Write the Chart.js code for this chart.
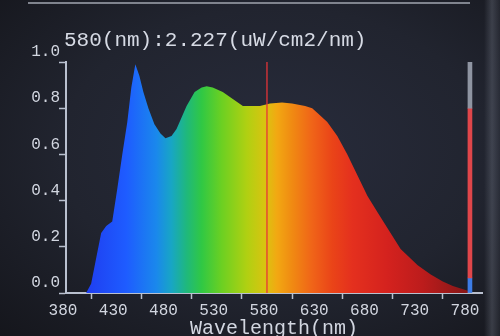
<!DOCTYPE html>
<html>
<head>
<meta charset="utf-8">
<script src="https://cdn.jsdelivr.net/npm/chart.js@4"></script>
<style>
  html, body { margin: 0; padding: 0; overflow: hidden; }
  body {
    width: 500px; height: 336px;
    background: radial-gradient(ellipse at 55% 45%, #282c3c 0%, #21242f 55%, #15161c 100%);
    position: relative;
  }
  #edge { position: absolute; left: 28px; top: 2px; width: 442px; height: 2px; background: #80848e; }
  #glare { position: absolute; left: 484px; top: 0; width: 16px; height: 336px;
    background: linear-gradient(90deg, rgba(120,126,140,0) 0%, rgba(120,126,140,0.35) 50%, rgba(120,126,140,0.1) 100%); }
  #wrap { position: absolute; left: 0; top: 0; }
</style>
</head>
<body>
<div id="edge"></div>
<div id="glare"></div>
<div id="wrap"><canvas id="spec" width="500" height="343"></canvas></div>
<script>
// spectrum
const wavelengths = [400,405,410,415,420,426,431,436,441,445,449,453,457,462,468,474,479,485,490,495,500,508,515,520,526,536,546,556,565,573,583,595,605,618,625,630,640,650,660,670,680,690,700,713,730,743,755,765,780];
const intensity = [0,0.04,0.15,0.26,0.29,0.31,0.45,0.60,0.74,0.89,0.99,0.94,0.87,0.80,0.73,0.69,0.67,0.68,0.71,0.76,0.81,0.87,0.89,0.895,0.89,0.87,0.84,0.81,0.81,0.81,0.82,0.825,0.82,0.81,0.80,0.78,0.74,0.68,0.60,0.51,0.42,0.35,0.28,0.19,0.12,0.08,0.05,0.03,0.01];

const markerNm = 580;
const markerText = "580(nm):2.227(uW/cm2/nm)";
const xTicks = [380,430,480,530,580,630,680,730,780];
const yTicks = [0,0.2,0.4,0.6,0.8,1.0];

// the level bar at the right edge
const levelNm = 782;
const levelGray = [0.8, 1.0];
const levelRed = [0.065, 0.8];
const levelBlue = [0, 0.065];

// colour stops along the wavelength axis
const colorStops = [
  [400, "#1f3ef0"], [440, "#1e5cff"], [470, "#1a88ec"], [485, "#18a6c4"],
  [500, "#1fb87c"], [515, "#30c844"], [535, "#6cd022"], [560, "#b0d012"],
  [578, "#d8c410"], [590, "#f2a812"], [605, "#f08a12"], [625, "#f06418"],
  [645, "#ea4418"], [665, "#e4301e"], [700, "#d4221e"], [735, "#bc1c1c"], [775, "#8c1818"]
];

function spectrumFill(ctx) {
  const chart = ctx.chart;
  if (!chart.chartArea) return "#2060f0";
  const xs = chart.scales.x;
  const x0 = xs.getPixelForValue(colorStops[0][0]);
  const x1 = xs.getPixelForValue(colorStops[colorStops.length - 1][0]);
  const g = chart.ctx.createLinearGradient(x0, 0, x1, 0);
  colorStops.forEach(([nm, c]) => {
    g.addColorStop((xs.getPixelForValue(nm) - x0) / (x1 - x0), c);
  });
  return g;
}

const headline = {
  id: "headline",
  afterDraw(chart) {
    const c = chart.ctx;
    c.save();
    c.font = "21px 'Liberation Mono'";
    c.fillStyle = "#d6dae4";
    c.textBaseline = "middle";
    c.fillText(markerText, chart.chartArea.left - 2, 40);
    c.restore();
  }
};

const axisColor = "#b9c0cf";
const textColor = "#d2d6e0";

new Chart(document.getElementById("spec"), {
  data: {
    datasets: [
      {
        type: "bar",
        data: [{ x: levelNm, y: levelGray }],
        backgroundColor: "#8f95a2",
        barThickness: 4, grouped: false, order: 0
      },
      {
        type: "bar",
        data: [{ x: levelNm, y: levelRed }],
        backgroundColor: "#e0464a",
        barThickness: 4, grouped: false, order: 0
      },
      {
        type: "bar",
        data: [{ x: levelNm, y: levelBlue }],
        backgroundColor: "#3c7ce6",
        barThickness: 4, grouped: false, order: 0
      },
      {
        type: "line",
        data: [{ x: markerNm, y: 0 }, { x: markerNm, y: 1 }],
        borderColor: "rgba(232,52,56,0.85)",
        borderWidth: 1.5,
        pointRadius: 0,
        order: 1
      },
      {
        type: "line",
        data: wavelengths.map((w, i) => ({ x: w, y: intensity[i] })),
        borderWidth: 0,
        pointRadius: 0,
        fill: "origin",
        backgroundColor: spectrumFill,
        order: 2
      }
    ]
  },
  options: {
    responsive: false,
    animation: false,
    layout: { padding: { top: 62, right: 18, left: 0, bottom: 0 } },
    plugins: { legend: { display: false }, tooltip: { enabled: false } },
    scales: {
      x: {
        type: "linear",
        min: 380, max: 794,
        offset: false,
        afterBuildTicks: s => { s.ticks = xTicks.map(v => ({ value: v })); },
        afterFit: s => { s.height = 50; },
        grid: { drawOnChartArea: false, color: axisColor, tickLength: 6, tickWidth: 1.5 },
        border: { color: axisColor, width: 2 },
        ticks: {
          color: textColor, font: { family: "'Liberation Mono'", size: 16 },
          padding: 2, labelOffset: -3, maxRotation: 0, autoSkip: false
        },
        title: {
          display: true, text: "Wavelength(nm)", color: textColor,
          font: { family: "'Liberation Mono'", size: 20 },
          padding: { top: 0, bottom: 2 }
        }
      },
      y: {
        min: 0, max: 1.0,
        afterBuildTicks: s => { s.ticks = yTicks.map(v => ({ value: v })); },
        afterFit: s => { s.width = 66; },
        grid: { drawOnChartArea: false, color: axisColor, tickLength: 7, tickWidth: 1.5 },
        border: { color: axisColor, width: 2 },
        ticks: {
          color: textColor, font: { family: "'Liberation Mono'", size: 16 },
          padding: -1, labelOffset: -10,
          callback: v => v.toFixed(1)
        }
      }
    }
  },
  plugins: [headline]
});
</script>
</body>
</html>
